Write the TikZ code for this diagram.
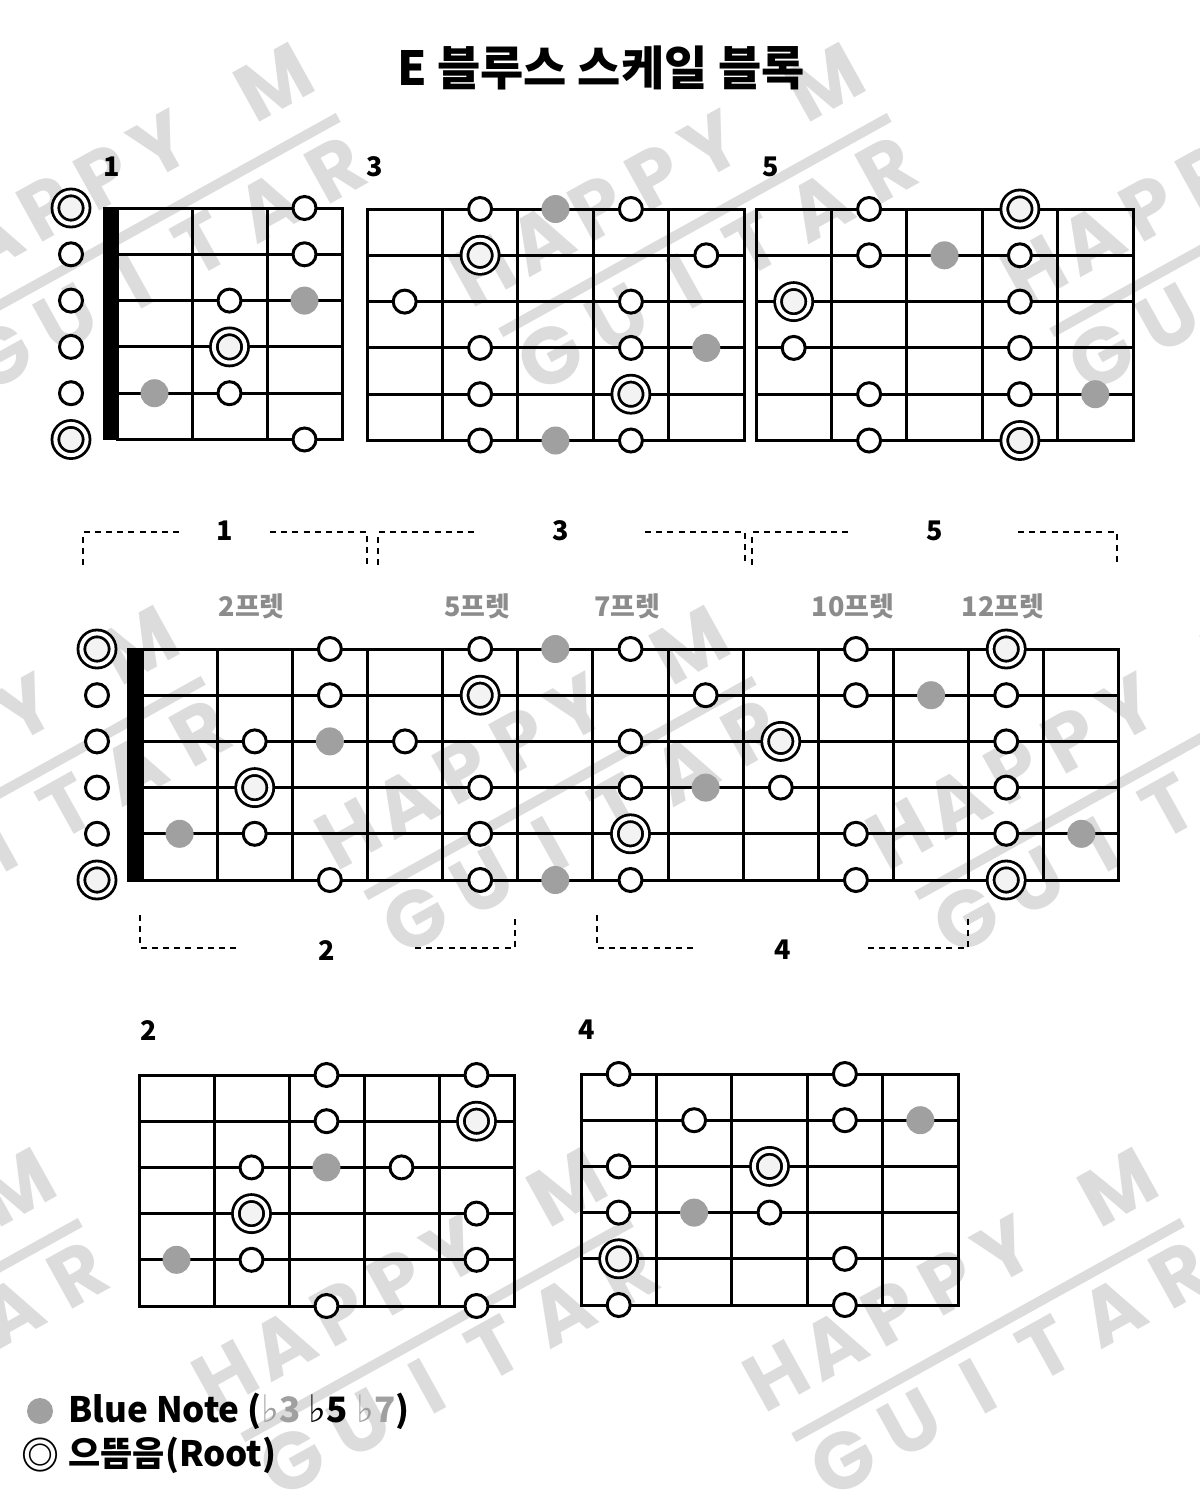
\documentclass[tikz,border=0pt]{standalone}
\usepackage{fontspec}
\setmainfont{Noto Sans CJK KR}
\newfontfamily\symfont{DejaVu Sans}
\newfontfamily\markfont{Poppins}
\usepackage{tikz}
\usetikzlibrary{positioning}
\definecolor{bluenotegray}{HTML}{A0A0A0}
\definecolor{fretgray}{HTML}{8C8C8C}
\definecolor{markgray}{HTML}{DCDCDC}
\definecolor{rootfill}{HTML}{F3F3F3}
% left, top, frets, fret width, string gap
\newcommand{\fretgrid}[5]{%
  \foreach \s in {0,...,5}
    \draw[fretline] (#1, {#2+\s*#5}) -- ({#1+#3*#4}, {#2+\s*#5});
  \foreach \k in {0,...,#3}
    \draw[fretline] ({#1+\k*#4}, #2) -- ({#1+\k*#4}, {#2+5*#5});
}
% prefix, left, top, first fret, fret width, string gap, fret/string/style
\newcommand{\fretnotes}[7]{%
  \foreach \f/\s/\st in {#7}
    \node[\st] (#1-\s-\f) at ({#2+(\f-#4-0.5)*#5}, {#3+(\s-1)*#6}) {};
}
% watermark logo
\newcommand{\hgmark}[2]{%
  \begin{scope}[shift={(#1,#2)}, rotate=29, transform shape]
    \draw[markgray, line width=5pt] (-222,0) -- (222,0);
    \foreach \ch [count=\i from 0] in {H,A,P,P,Y,{},M}
      \node[markletter] at ({-207+\i*65}, -62) {\ch};
    \foreach \ch [count=\i from 0] in {G,U,I,T,A,R}
      \node[markletter] at ({-190+\i*77}, 44) {\ch};
  \end{scope}}
% flat sign
\newcommand{\flatsign}{{\symfont\mdseries\fontsize{19}{18}\selectfont ♭}}

\begin{document}
\begin{tikzpicture}[x=0.5pt, y=-0.5pt,
  fretline/.style={line width=1.5pt, line cap=rect},
  tone/.style={circle, draw, fill=white, line width=1.5pt, minimum size=11.5pt, inner sep=0pt},
  roottone/.style={circle, draw, fill=rootfill, double=white, double distance=2pt,
    line width=1.4pt, minimum size=15.6pt, inner sep=0pt},
  bluetone/.style={circle, fill=bluenotegray, minimum size=14pt, inner sep=0pt},
  blocklabel/.style={font=\bfseries\fontsize{13.5}{16}\selectfont, inner sep=0pt},
  fretlabel/.style={font=\bfseries\fontsize{13.5}{16}\selectfont, text=fretgray, inner sep=0pt},
  bracket/.style={line width=1.2pt, dash pattern=on 3pt off 2.6pt},
  markletter/.style={font=\markfont\bfseries\fontsize{40}{40}\selectfont, text=markgray, inner sep=0pt},
  legendtext/.style={font=\bfseries\fontsize{17.5}{20}\selectfont, inner sep=0pt}]

  \useasboundingbox (0,0) rectangle (1200,1500);
  \fill[white] (0,0) rectangle (1200,1500);

  % Watermark
  \begin{scope}
    \clip (0,0) rectangle (1200,1500);
    \hgmark{144}{225} \hgmark{695}{225} \hgmark{1246}{225}
    \hgmark{9}{788} \hgmark{560}{788} \hgmark{1111}{788}
    \hgmark{-114}{1330} \hgmark{437}{1330} \hgmark{988}{1330}
  \end{scope}

  % Title
  \node[font=\bfseries\fontsize{23.5}{28}\selectfont] (title) at (601,68) {E 블루스 스케일 블록};

  % Block 1
  \node[blocklabel] (t1) at (112,167) {1};
  \fretgrid{117}{208}{3}{75}{46.3}
  \fill (103,206.5) rectangle (117,440);
  \foreach \s/\st in {1/roottone,2/tone,3/tone,4/tone,5/tone,6/roottone}
    \node[\st] (b1-\s-0) at (71, {208+(\s-1)*46.3}) {};
  \fretnotes{b1}{117}{208}{0}{75}{46.3}{3/1/tone, 3/2/tone, 2/3/tone, 3/3/bluetone,
    2/4/roottone, 1/5/bluetone, 2/5/tone, 3/6/tone}

  % Block 3
  \node[blocklabel] (t3) at (375,167) {3};
  \fretgrid{367}{209}{5}{75.4}{46.3}
  \fretnotes{b3}{367}{209}{3}{75.4}{46.3}{5/1/tone, 6/1/bluetone, 7/1/tone,
    5/2/roottone, 8/2/tone, 4/3/tone, 7/3/tone, 5/4/tone, 7/4/tone, 8/4/bluetone,
    5/5/tone, 7/5/roottone, 5/6/tone, 6/6/bluetone, 7/6/tone}

  % Block 5
  \node[blocklabel] (t5) at (771,167) {5};
  \fretgrid{756}{209}{5}{75.4}{46.3}
  \fretnotes{b5}{756}{209}{8}{75.4}{46.3}{10/1/tone, 12/1/roottone,
    10/2/tone, 11/2/bluetone, 12/2/tone, 9/3/roottone, 12/3/tone, 9/4/tone, 12/4/tone,
    10/5/tone, 12/5/tone, 13/5/bluetone, 10/6/tone, 12/6/roottone}

  % Brackets above the neck
  \node[blocklabel] (up1) at (225,531) {1};
  \draw[bracket] (83,565) |- (183,532);
  \draw[bracket] (270,532) -| (367,565);
  \node[blocklabel] (up3) at (561,531) {3};
  \draw[bracket] (378,565) |- (478,532);
  \draw[bracket] (645,532) -| (745,565);
  \node[blocklabel] (up5) at (935,531) {5};
  \draw[bracket] (752,565) |- (852,532);
  \draw[bracket] (1018,532) -| (1117,565);

  % Fret marks
  \foreach \f in {2,5,7,10,12}
    \node[fretlabel] (fl\f) at ({139+(\f-0.5)*75.15}, 606) {{\f}프렛};

  % Whole neck
  \fretgrid{142}{649}{13}{75.15}{46.2}
  \fill (127,647.5) rectangle (142,881.5);
  \foreach \s/\st in {1/roottone,2/tone,3/tone,4/tone,5/tone,6/roottone}
    \node[\st] (m-\s-0) at (97, {649+(\s-1)*46.2}) {};
  \fretnotes{m}{142}{649}{0}{75.15}{46.2}{
    3/1/tone, 5/1/tone, 6/1/bluetone, 7/1/tone, 10/1/tone, 12/1/roottone,
    3/2/tone, 5/2/roottone, 8/2/tone, 10/2/tone, 11/2/bluetone, 12/2/tone,
    2/3/tone, 3/3/bluetone, 4/3/tone, 7/3/tone, 9/3/roottone, 12/3/tone,
    2/4/roottone, 5/4/tone, 7/4/tone, 8/4/bluetone, 9/4/tone, 12/4/tone,
    1/5/bluetone, 2/5/tone, 5/5/tone, 7/5/roottone, 10/5/tone, 12/5/tone, 13/5/bluetone,
    3/6/tone, 5/6/tone, 6/6/bluetone, 7/6/tone, 10/6/tone, 12/6/roottone}

  % Brackets below the neck
  \node[blocklabel] (dn2) at (327,950) {2};
  \draw[bracket] (140,915) |- (240,948);
  \draw[bracket] (415,948) -| (515,915);
  \node[blocklabel] (dn4) at (783,950) {4};
  \draw[bracket] (597,915) |- (697,948);
  \draw[bracket] (868,948) -| (968,915);

  % Block 2
  \node[blocklabel] (t2) at (149,1030) {2};
  \fretgrid{139}{1075}{5}{75}{46.2}
  \fretnotes{b2}{139}{1075}{0}{75}{46.2}{3/1/tone, 5/1/tone, 3/2/tone, 5/2/roottone,
    2/3/tone, 3/3/bluetone, 4/3/tone, 2/4/roottone, 5/4/tone,
    1/5/bluetone, 2/5/tone, 5/5/tone, 3/6/tone, 5/6/tone}

  % Block 4
  \node[blocklabel] (t4) at (587,1030) {4};
  \fretgrid{581}{1074}{5}{75.4}{46.2}
  \fretnotes{b4}{581}{1074}{6}{75.4}{46.2}{7/1/tone, 10/1/tone,
    8/2/tone, 10/2/tone, 11/2/bluetone, 7/3/tone, 9/3/roottone,
    7/4/tone, 8/4/bluetone, 9/4/tone, 7/5/roottone, 10/5/tone, 7/6/tone, 10/6/tone}

  % Legend
  \node[bluetone, minimum size=13pt] (lgblue) at (40,1411) {};
  \node[legendtext, anchor=west] (lgbluetext) at (68,1411)
    {Blue Note ({\color{bluenotegray}\flatsign 3} \flatsign 5 {\color{bluenotegray}\flatsign 7})};
  \node[legendtext, font=\bfseries\fontsize{19}{20}\selectfont] (lgroot) at (40,1455) {◎};
  \node[legendtext, anchor=west] (lgroottext) at (68,1455) {으뜸음(Root)};
\end{tikzpicture}
\end{document}
